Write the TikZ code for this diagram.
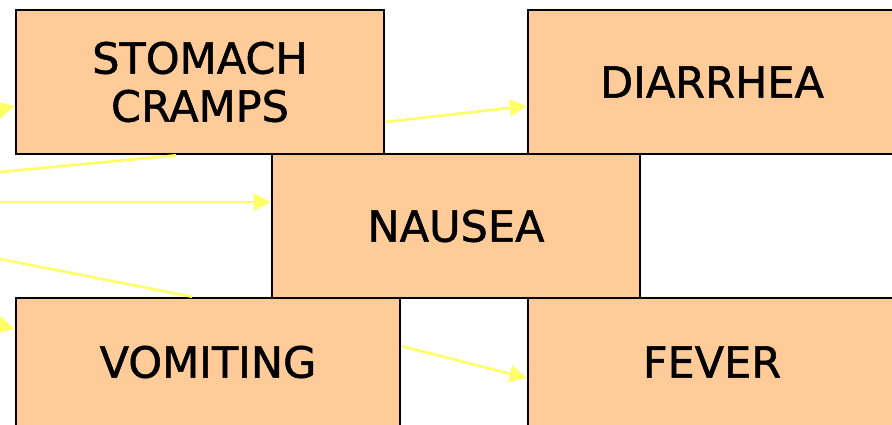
\documentclass[tikz,border=0pt]{standalone}
\usepackage{fontspec}
\setmainfont{DejaVu Sans}
\newfontfamily\boxfont{DejaVu Sans}[FakeBold=1.2]
\usetikzlibrary{arrows.meta}
\definecolor{peach}{HTML}{FFCC99}
\definecolor{lineyellow}{HTML}{FFFF66}
\tikzset{
  box/.style={draw=black, line width=2.6pt, fill=peach, inner sep=0pt,
    minimum width=368pt, minimum height=144pt, align=center,
    font=\boxfont\fontsize{43}{48}\selectfont},
  link/.style={draw=lineyellow, line width=2.6pt},
  arrowlink/.style={link, -{Triangle[length=17pt,width=17pt]}}
}
\begin{document}
\begin{tikzpicture}[x=1pt,y=-1pt]
\useasboundingbox (0,0) rectangle (892,424);
\clip (0,0) rectangle (892,424);
\fill[white] (0,0) rectangle (892,424);
\node[box] (cramps) at (200,82) {STOMACH\\CRAMPS};
\node[box] (diarrhea) at (712,82) {DIARRHEA};
\node[box] (nausea) at (456,226) {NAUSEA};
\node[box, minimum width=384pt, minimum height=128pt] (vomiting) at (208,362) {VOMITING};
\node[box, minimum height=128pt] (fever) at (712,362) {FEVER};
\coordinate (l1) at (0,172);
\coordinate (l2) at (0,202);
\coordinate (l3) at (0,259);
\coordinate (l4) at (-60,124);
\coordinate (l5) at (-60,310);
\draw[link] (l1) -- ([xshift=-24pt]cramps.south);
\draw[arrowlink] (l2) -- ([yshift=24pt]nausea.west);
\draw[link] (l3) -- ([xshift=-16pt]vomiting.north);
\draw[arrowlink] (l4) -- ([yshift=-24pt]cramps.west);
\draw[arrowlink] (l5) -- ([yshift=33pt]vomiting.west);
\draw[arrowlink] ([yshift=-40pt]cramps.east) -- ([yshift=-24pt]diarrhea.west);
\draw[arrowlink] ([yshift=16pt]vomiting.east) -- ([yshift=-16pt]fever.west);
\end{tikzpicture}
\end{document}
